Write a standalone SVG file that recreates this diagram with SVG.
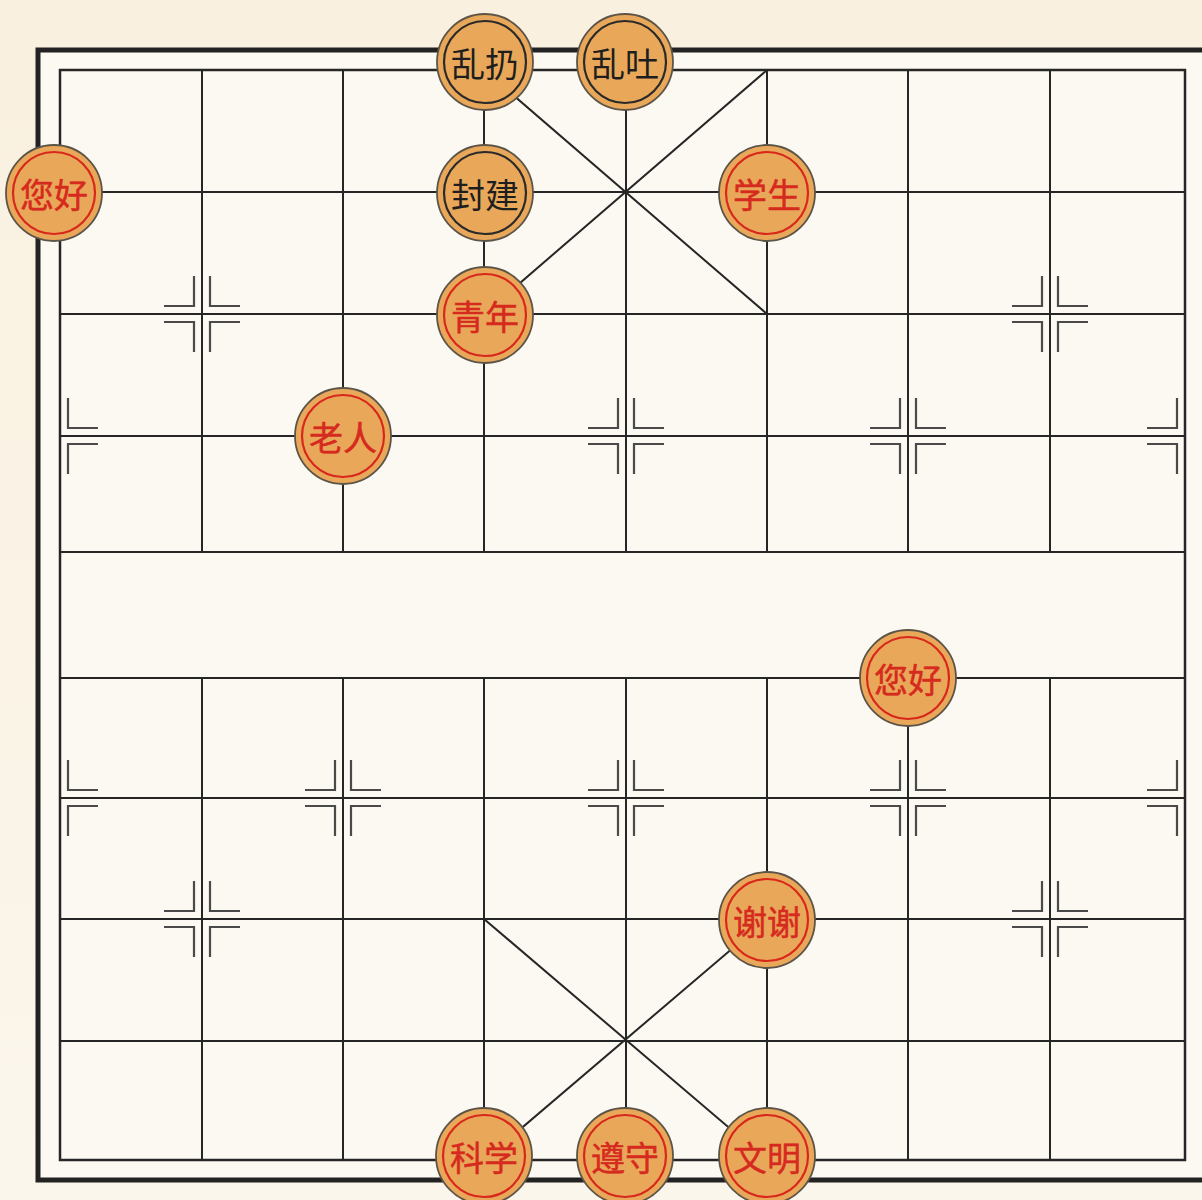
<svg xmlns="http://www.w3.org/2000/svg" width="1202" height="1200" viewBox="0 0 1202 1200">
<defs>
<style>
.grid{stroke:#262626;stroke-width:2;fill:none}
.mk{stroke:#4a4a4a;stroke-width:2.2;fill:none}
.pc{fill:#E9A859;stroke:#5d5448;stroke-width:1.8}
.ring-r{fill:none;stroke:#D8281C;stroke-width:2.2}
.ring-b{fill:none;stroke:#2a2a2a;stroke-width:2.2}
.t{font-family:"Noto Sans CJK SC","Noto Sans CJK JP",sans-serif;font-size:34px;text-anchor:middle;dominant-baseline:central}
.tr{fill:#D62A1F;stroke:#D62A1F;stroke-width:0.5}
.tb{fill:#1e1e1e}
</style>
<linearGradient id="bg" x1="0" y1="0" x2="0" y2="1">
<stop offset="0" stop-color="#F9F0DF"/>
<stop offset="1" stop-color="#FBF6EC"/>
</linearGradient>
<g id="mL">
<path d="M-8,-38 V-8 H-38 M-8,38 V8 H-38"/>
</g>
<g id="mR">
<path d="M8,-38 V-8 H38 M8,38 V8 H38"/>
</g>
</defs>
<rect x="0" y="0" width="1202" height="1200" fill="url(#bg)"/>
<rect x="38" y="50" width="1182" height="1130" fill="#FCF9F2" stroke="#222" stroke-width="5"/>
<g id="board" class="grid">
<rect x="60" y="70" width="1125" height="1090" stroke-width="2.5"/>
<path d="M60,192H1185M60,314H1185M60,436H1185M60,552H1185M60,678H1185M60,798H1185M60,919H1185M60,1041H1185"/>
<path d="M202,70V552M343,70V552M484,70V552M626,70V552M767,70V552M908,70V552M1050,70V552"/>
<path d="M202,678V1160M343,678V1160M484,678V1160M626,678V1160M767,678V1160M908,678V1160M1050,678V1160"/>
</g>
<g id="connectors" class="grid">
<path d="M484,70L767,314M767,70L484,314"/>
<path d="M484,919L767,1160M767,919L484,1160"/>
</g>
<g id="marks" class="mk">
<use href="#mL" x="202" y="314"/><use href="#mR" x="202" y="314"/>
<use href="#mL" x="1050" y="314"/><use href="#mR" x="1050" y="314"/>
<use href="#mR" x="60" y="436"/>
<use href="#mL" x="626" y="436"/><use href="#mR" x="626" y="436"/>
<use href="#mL" x="908" y="436"/><use href="#mR" x="908" y="436"/>
<use href="#mL" x="1185" y="436"/>
<use href="#mR" x="60" y="798"/>
<use href="#mL" x="343" y="798"/><use href="#mR" x="343" y="798"/>
<use href="#mL" x="626" y="798"/><use href="#mR" x="626" y="798"/>
<use href="#mL" x="908" y="798"/><use href="#mR" x="908" y="798"/>
<use href="#mL" x="1185" y="798"/>
<use href="#mL" x="202" y="919"/><use href="#mR" x="202" y="919"/>
<use href="#mL" x="1050" y="919"/><use href="#mR" x="1050" y="919"/>
</g>
<g id="p-luanreng" transform="translate(485,62)"><circle class="pc" r="48"/><circle class="ring-b" r="41"/><text class="t tb">乱扔</text></g>
<g id="p-luantu" transform="translate(625,62)"><circle class="pc" r="48"/><circle class="ring-b" r="41"/><text class="t tb">乱吐</text></g>
<g id="p-fengjian" transform="translate(485,193)"><circle class="pc" r="48"/><circle class="ring-b" r="41"/><text class="t tb">封建</text></g>
<g id="p-ninhao1" transform="translate(54,193)"><circle class="pc" r="48"/><circle class="ring-r" r="41"/><text class="t tr">您好</text></g>
<g id="p-xuesheng" transform="translate(767,193)"><circle class="pc" r="48"/><circle class="ring-r" r="41"/><text class="t tr">学生</text></g>
<g id="p-qingnian" transform="translate(485,315)"><circle class="pc" r="48"/><circle class="ring-r" r="41"/><text class="t tr">青年</text></g>
<g id="p-laoren" transform="translate(343,436)"><circle class="pc" r="48"/><circle class="ring-r" r="41"/><text class="t tr">老人</text></g>
<g id="p-ninhao2" transform="translate(908,678)"><circle class="pc" r="48"/><circle class="ring-r" r="41"/><text class="t tr">您好</text></g>
<g id="p-xiexie" transform="translate(767,920)"><circle class="pc" r="48"/><circle class="ring-r" r="41"/><text class="t tr">谢谢</text></g>
<g id="p-kexue" transform="translate(484,1156)"><circle class="pc" r="48"/><circle class="ring-r" r="41"/><text class="t tr">科学</text></g>
<g id="p-zunshou" transform="translate(625,1156)"><circle class="pc" r="48"/><circle class="ring-r" r="41"/><text class="t tr">遵守</text></g>
<g id="p-wenming" transform="translate(767,1156)"><circle class="pc" r="48"/><circle class="ring-r" r="41"/><text class="t tr">文明</text></g>
</svg>
